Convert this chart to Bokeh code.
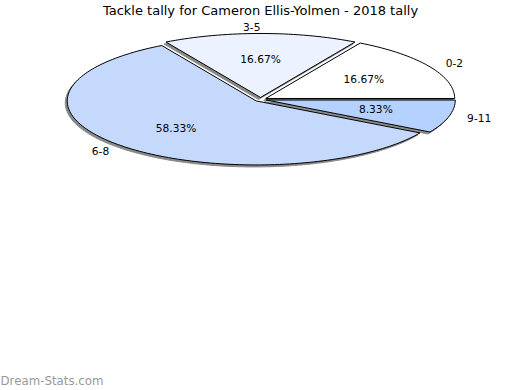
import numpy as np
from bokeh.plotting import figure
from bokeh.models import Range1d, ColumnDataSource
from bokeh.core.properties import value
from bokeh.embed import file_html
from bokeh.resources import INLINE

title = "Tackle tally for Cameron Ellis-Yolmen - 2018 tally"
categories = ["0-2", "3-5", "6-8", "9-11"]
counts = [2, 2, 7, 1]
colors = ["#ffffff", "#ecf2ff", "#c5d9fd", "#b4d2fd"]
watermark = "Dream-Stats.com"

# geometry (pixels)
CX, CY = 260.0, 99.0
RX, RY = 189.0, 64.0
EXPLODE = 6.0 / RX  # fraction of radius
SH_DX, SH_DY = -2.0, 2.0

total = float(sum(counts))
fracs = np.array(counts, dtype=float) / total
ends = np.cumsum(fracs) * 2 * np.pi
starts = ends - fracs * 2 * np.pi
mids = (starts + ends) / 2

xs, ys, sxs, sys_ = [], [], [], []
lab_x, lab_y, lab_al, pct_x, pct_y, pct_t = [], [], [], [], [], []
for s, e, m, f in zip(starts, ends, mids, fracs):
    cx = CX + EXPLODE * RX * np.cos(m)
    cy = CY - EXPLODE * RY * np.sin(m)
    n = max(8, int((e - s) / (2 * np.pi) * 240))
    t = np.linspace(s, e, n)
    px = np.concatenate([[cx], cx + RX * np.cos(t)])
    py = np.concatenate([[cy], cy - RY * np.sin(t)])
    xs.append(list(px)); ys.append(list(py))
    sxs.append(list(px + SH_DX)); sys_.append(list(py + SH_DY))
    lab_x.append(cx + 1.1 * RX * np.cos(m)); lab_y.append(cy - 1.1 * RY * np.sin(m))
    lab_al.append("left" if np.cos(m) > 1e-6 else "right")
    pct_x.append(cx + 0.6 * RX * np.cos(m)); pct_y.append(cy - 0.6 * RY * np.sin(m))
    pct_t.append(f"{100 * f:.2f}%")

p = figure(width=520, height=390, output_backend="svg", toolbar_location=None,
           x_range=Range1d(0, 520), y_range=Range1d(390, 0), min_border=0)
p.axis.visible = False
p.grid.visible = False
p.outline_line_color = None
p.background_fill_color = "white"
p.border_fill_color = "white"

p.patches(xs=sxs, ys=sys_, fill_color="#8a8a8a", line_color="#8a8a8a", line_width=1)
src = ColumnDataSource(dict(xs=xs, ys=ys, color=colors))
p.patches(xs="xs", ys="ys", fill_color="color", line_color="black", line_width=1, source=src)

lab_src = ColumnDataSource(dict(x=lab_x, y=lab_y, text=categories, align=lab_al))
p.text(x="x", y="y", text="text", text_align="align", source=lab_src,
       text_font=value("DejaVu Sans"), text_font_size="8pt",
       text_baseline="middle", text_color="black")
p.text(x=pct_x, y=pct_y, text=pct_t, text_font=value("DejaVu Sans"), text_font_size="8pt",
       text_align="center", text_baseline="middle", text_color="black")
p.text(x=[260], y=[10], text=[title], text_font=value("DejaVu Sans"), text_font_size="13px",
       text_align="center", text_baseline="middle", text_color="black")
p.text(x=[0], y=[380], text=[watermark], text_font=value("DejaVu Sans"), text_font_size="11.8px",
       text_align="left", text_baseline="middle", text_color="#999999")

open("out.html", "w").write(file_html(p, INLINE))
